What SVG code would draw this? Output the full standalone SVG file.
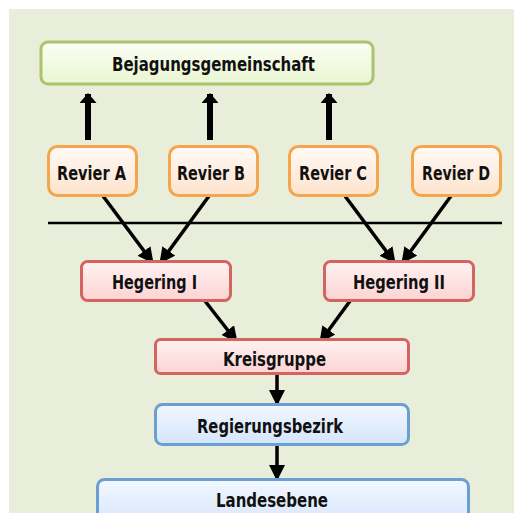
<svg xmlns="http://www.w3.org/2000/svg" width="514" height="513" viewBox="0 0 514 513">
  <style>
    .lbl { font-family: "DejaVu Sans", "Liberation Sans", sans-serif; font-stretch: condensed; font-weight: bold; font-size: 20px; fill: #111; text-anchor: middle; }
    .green { fill: url(#gGreen); stroke: #a9c46c; stroke-width: 3; }
    .orange { fill: url(#gOrange); stroke: #f5a54e; stroke-width: 3; }
    .red { fill: url(#gRed); stroke: #d4645f; stroke-width: 3; }
    .blue { fill: url(#gBlue); stroke: #6b9fd2; stroke-width: 3; }
    .conn { stroke: #000; stroke-width: 3.5; fill: none; marker-end: url(#ah); }
    .thick { stroke: #000; stroke-width: 6; fill: none; marker-end: url(#ahBig); }
  </style>
  <defs>
    <linearGradient id="gGreen" x1="0" y1="0" x2="0" y2="1">
      <stop offset="0" stop-color="#fbfef4"/>
      <stop offset="1" stop-color="#eaf6d2"/>
    </linearGradient>
    <linearGradient id="gOrange" x1="0" y1="0" x2="0" y2="1">
      <stop offset="0" stop-color="#fffaf5"/>
      <stop offset="1" stop-color="#fde3cd"/>
    </linearGradient>
    <linearGradient id="gRed" x1="0" y1="0" x2="0" y2="1">
      <stop offset="0" stop-color="#fff2f2"/>
      <stop offset="1" stop-color="#fcd3d3"/>
    </linearGradient>
    <linearGradient id="gBlue" x1="0" y1="0" x2="0" y2="1">
      <stop offset="0" stop-color="#f2f7ff"/>
      <stop offset="1" stop-color="#d4e5fa"/>
    </linearGradient>
    <marker id="ah" markerUnits="userSpaceOnUse" markerWidth="16" markerHeight="16" viewBox="0 0 16 16" refX="15" refY="8" orient="auto">
      <path d="M0,0 L16,8 L0,16 Z" fill="#000"/>
    </marker>
    <marker id="ahBig" markerUnits="userSpaceOnUse" markerWidth="10" markerHeight="17" viewBox="0 0 10 17" refX="9" refY="8.5" orient="auto">
      <path d="M0,0 L10,8.5 L0,17 Z" fill="#000"/>
    </marker>
  </defs>

  <rect x="9" y="9" width="505" height="504" fill="#e9eedb"/>

  <line x1="48" y1="223" x2="502" y2="223" stroke="#000" stroke-width="2.5"/>

  <g id="connectors">
    <line class="thick" x1="88" y1="140" x2="88" y2="94"/>
    <line class="thick" x1="210" y1="140" x2="210" y2="94"/>
    <line class="thick" x1="329" y1="140" x2="329" y2="94"/>
    <line class="conn" x1="103" y1="196" x2="153" y2="263"/>
    <line class="conn" x1="209" y1="196" x2="160" y2="263"/>
    <line class="conn" x1="345" y1="196" x2="395" y2="263"/>
    <line class="conn" x1="451" y1="196" x2="402" y2="263"/>
    <line class="conn" x1="205" y1="301" x2="237" y2="342"/>
    <line class="conn" x1="350" y1="301" x2="320" y2="342"/>
    <line class="conn" x1="277" y1="374" x2="277" y2="405"/>
    <line class="conn" x1="277" y1="445" x2="277" y2="480"/>
  </g>

  <g id="bejagungsgemeinschaft">
    <rect class="green" x="41" y="42" width="332" height="42" rx="7"/>
    <text class="lbl" x="213.5" y="71" textLength="203" lengthAdjust="spacingAndGlyphs">Bejagungsgemeinschaft</text>
  </g>
  <g id="revier-a">
    <rect class="orange" x="48.5" y="146.5" width="88" height="49" rx="9"/>
    <text class="lbl" x="91.5" y="179.5" textLength="69" lengthAdjust="spacingAndGlyphs">Revier A</text>
  </g>
  <g id="revier-b">
    <rect class="orange" x="169.5" y="146.5" width="88" height="49" rx="9"/>
    <text class="lbl" x="211" y="179.5" textLength="68" lengthAdjust="spacingAndGlyphs">Revier B</text>
  </g>
  <g id="revier-c">
    <rect class="orange" x="289.5" y="146.5" width="88" height="49" rx="9"/>
    <text class="lbl" x="333" y="179.5" textLength="68" lengthAdjust="spacingAndGlyphs">Revier C</text>
  </g>
  <g id="revier-d">
    <rect class="orange" x="412.5" y="146.5" width="88" height="49" rx="9"/>
    <text class="lbl" x="456" y="179.5" textLength="68" lengthAdjust="spacingAndGlyphs">Revier D</text>
  </g>
  <g id="hegering-1">
    <rect class="red" x="81.5" y="261.5" width="149" height="39" rx="6"/>
    <text class="lbl" x="154.5" y="289" textLength="85" lengthAdjust="spacingAndGlyphs">Hegering I</text>
  </g>
  <g id="hegering-2">
    <rect class="red" x="324.5" y="261.5" width="149" height="39" rx="6"/>
    <text class="lbl" x="399" y="289" textLength="92" lengthAdjust="spacingAndGlyphs">Hegering II</text>
  </g>
  <g id="kreisgruppe">
    <rect class="red" x="155.5" y="339.5" width="253" height="34" rx="5"/>
    <text class="lbl" x="274.5" y="366" textLength="103" lengthAdjust="spacingAndGlyphs">Kreisgruppe</text>
  </g>
  <g id="regierungsbezirk">
    <rect class="blue" x="155.5" y="404.5" width="253" height="40" rx="7"/>
    <text class="lbl" x="270" y="433" textLength="146" lengthAdjust="spacingAndGlyphs">Regierungsbezirk</text>
  </g>
  <g id="landesebene">
    <rect class="blue" x="97.5" y="479.5" width="371" height="50" rx="7"/>
    <text class="lbl" x="272" y="507" textLength="112" lengthAdjust="spacingAndGlyphs">Landesebene</text>
  </g>
</svg>
